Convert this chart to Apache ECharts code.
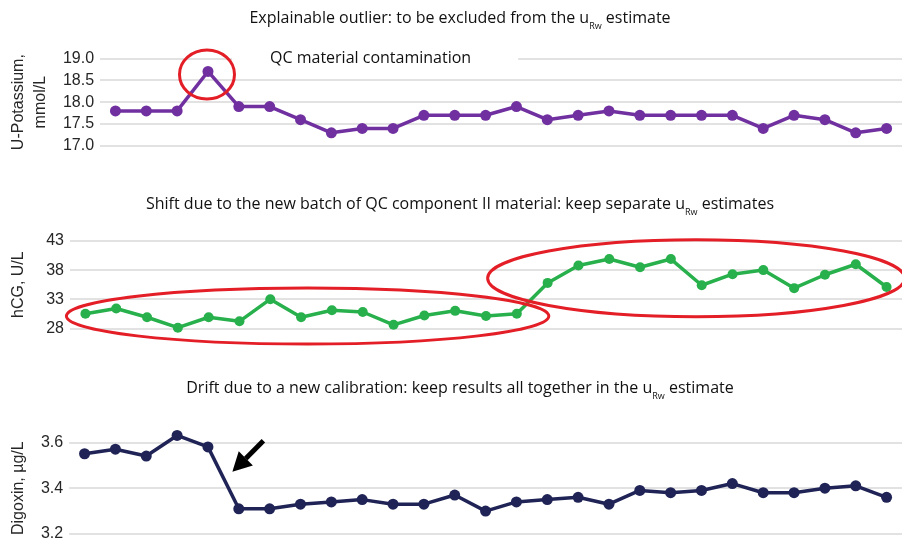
<!DOCTYPE html>
<html>
<head>
<meta charset="utf-8">
<script src="https://cdn.jsdelivr.net/npm/echarts@6.0.0/dist/echarts.min.js"></script>
<style>
  html, body { margin: 0; padding: 0; background: #fff; }
  #root { width: 902px; height: 542px; }
</style>
</head>
<body>
<div id="root"></div>
<script>
// Values
const potassium = [17.8, 17.8, 17.8, 18.7, 17.9, 17.9, 17.6, 17.3, 17.4, 17.4, 17.7, 17.7, 17.7,
  17.9, 17.6, 17.7, 17.8, 17.7, 17.7, 17.7, 17.7, 17.4, 17.7, 17.6, 17.3, 17.4];
const hcg = [30.5, 31.4, 29.9, 28.1, 29.9, 29.2, 33.0, 29.9, 31.1, 30.8, 28.6, 30.2, 31.0, 30.1,
  30.5, 35.8, 38.8, 39.9, 38.5, 39.9, 35.4, 37.3, 38.0, 34.9, 37.2, 39.0, 35.1];
const digoxin = [3.55, 3.57, 3.54, 3.63, 3.58, 3.31, 3.31, 3.33, 3.34, 3.35, 3.33, 3.33, 3.37, 3.30,
  3.34, 3.35, 3.36, 3.33, 3.39, 3.38, 3.39, 3.42, 3.38, 3.38, 3.40, 3.41, 3.36];

const runsTop = potassium.map((v, i) => String(i + 1));
const runs = hcg.map((v, i) => String(i + 1));

const titles = [
  ['Explainable outlier: to be excluded from the u', ' estimate'],
  ['Shift due to the new batch of QC component II material: keep separate u', ' estimates'],
  ['Drift due to a new calibration: keep results all together in the u', ' estimate']
];
const axisNames = ['U-Potassium,\nmmol/L', 'hCG, U/L', 'Digoxin, µg/L'];
const note = 'QC material contamination';

const chart = echarts.init(document.getElementById('root'));

const labelFont = { fontFamily: 'Liberation Sans', fontSize: 16, color: '#262626' };
const titleRich = {
  t: { fontFamily: 'Open Sans', fontSize: 16, fontWeight: 'normal', color: '#111', lineHeight: 22 },
  s: { fontFamily: 'Open Sans', fontSize: 9, fontWeight: 'normal', color: '#111', lineHeight: 9, padding: [15, 0, 0, 0], verticalAlign: 'top' }
};
const splitLine = { show: true, lineStyle: { color: '#d9d9d9', width: 1.5 } };

function yAxis(idx, min, max, interval, fmt, gap) {
  return {
    type: 'value', gridIndex: idx, min, max, interval,
    name: axisNames[idx], nameLocation: 'middle', nameGap: gap, nameRotate: 90,
    nameTextStyle: { fontFamily: 'Liberation Sans', fontSize: 16, color: '#262626', lineHeight: 22 },
    axisLine: { show: false }, axisTick: { show: false },
    axisLabel: Object.assign({ formatter: fmt, margin: 6 }, labelFont),
    splitLine
  };
}

function series(idx, data, color, size) {
  return {
    type: 'line', xAxisIndex: idx, yAxisIndex: idx, data,
    symbol: 'circle', symbolSize: size, clip: false,
    lineStyle: { color, width: 3.5 }, itemStyle: { color },
    animation: false
  };
}

function title(i, top) {
  return {
    text: `{t|${titles[i][0]}}{s|Rw}{t|${titles[i][1]}}`,
    left: 455, textAlign: 'center', top,
    textStyle: { fontWeight: 'normal', rich: titleRich }
  };
}

const option = {
  backgroundColor: '#fff',
  animation: false,
  title: [
    title(0, 2),
    title(1, 188),
    title(2, 372),
    { text: note, left: 232, top: 48, padding: [2, 47, 2, 38], backgroundColor: '#fff',
      textStyle: { fontFamily: 'Open Sans', fontSize: 16, fontWeight: 'normal', color: '#111' } }
  ],
  grid: [
    { left: 97, right: 0, top: 58.3, bottom: 396 },
    { left: 67, right: 0, top: 241, bottom: 213.7 },
    { left: 65, right: -5, top: 442.3, bottom: 7.7 }
  ],
  xAxis: [runsTop, runs, runs].map((cats, i) => ({
    type: 'category', gridIndex: i, data: cats, boundaryGap: true,
    axisLine: { show: false }, axisTick: { show: false }, axisLabel: { show: false }
  })),
  yAxis: [
    yAxis(0, 17, 19, 0.5, v => v.toFixed(1), 47),
    yAxis(1, 28, 43, 5, v => String(v), 40),
    yAxis(2, 3.2, 3.6, 0.2, v => v.toFixed(1), 38)
  ],
  series: [
    series(0, potassium, '#7030a0', 11),
    series(1, hcg, '#27b04b', 10),
    series(2, digoxin, '#1f2355', 11)
  ]
};
chart.setOption(option);

// Annotations placed relative to the plotted points
const px = (g, x, y) => chart.convertToPixel({ gridIndex: g }, [x, y]);
const red = { stroke: '#e41e26', lineWidth: 3, fill: 'none' };

const peak = px(0, 3, potassium[3]);
const a0 = px(1, 0, 30.1), a1 = px(1, 14, 30.1);
const b0 = px(1, 15, 36.6), b1 = px(1, 26, 36.6);
const d4 = px(2, 4, digoxin[4]), d5 = px(2, 5, digoxin[5]);

const tip = [(d4[0] + d5[0]) / 2 + 9, (d4[1] + d5[1]) / 2 - 6];
const tail = [tip[0] + 31, tip[1] - 31];
const dir = [(tip[0] - tail[0]) / Math.hypot(31, 31), (tip[1] - tail[1]) / Math.hypot(31, 31)];
const base = [tip[0] - dir[0] * 19, tip[1] - dir[1] * 19];
const perp = [-dir[1], dir[0]];

chart.setOption({
  graphic: [
    { type: 'ellipse', shape: { cx: peak[0] - 1, cy: peak[1] + 3, rx: 27.5, ry: 24.5 }, style: red, z: 10 },
    { type: 'ellipse', shape: { cx: (a0[0] - 19 + a1[0] + 32) / 2, cy: a0[1], rx: (a1[0] + 32 - a0[0] + 19) / 2, ry: 28 }, style: red, z: 10 },
    { type: 'ellipse', shape: { cx: (b0[0] - 60 + b1[0] + 18) / 2, cy: b0[1], rx: (b1[0] + 18 - b0[0] + 60) / 2, ry: 38.5 }, style: red, z: 10 },
    { type: 'line', shape: { x1: tail[0], y1: tail[1], x2: base[0], y2: base[1] }, style: { stroke: '#000', lineWidth: 5 }, z: 10 },
    { type: 'polygon', shape: { points: [tip, [base[0] + perp[0] * 10, base[1] + perp[1] * 10], [base[0] - perp[0] * 10, base[1] - perp[1] * 10]] }, style: { fill: '#000' }, z: 10 }
  ]
});
</script>
</body>
</html>
